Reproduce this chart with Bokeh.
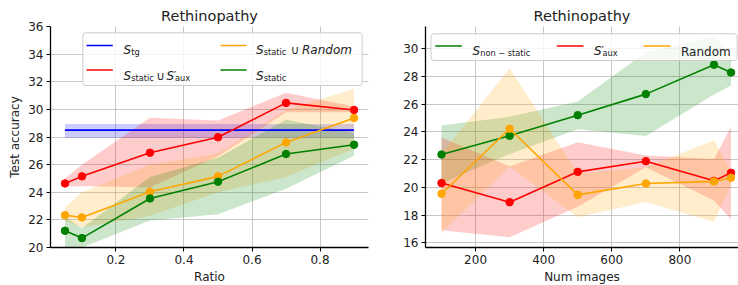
from bokeh.plotting import figure
from bokeh.layouts import row
from bokeh.models import Label, BoxAnnotation, FixedTicker, Range1d
from bokeh.embed import file_html
from bokeh.resources import INLINE

# ---------------- data: left panel ----------------
ratio = [0.05, 0.1, 0.3, 0.5, 0.7, 0.9]
tg_mean = [28.5, 28.5, 28.5, 28.5, 28.5, 28.5]
tg_low = [27.95, 27.95, 27.95, 27.95, 27.95, 27.95]
tg_high = [28.95, 28.95, 28.95, 28.95, 28.95, 28.95]

aux_mean = [24.64, 25.15, 26.86, 27.98, 30.47, 29.96]
aux_low = [24.4, 24.45, 24.35, 26.6, 29.8, 29.8]
aux_high = [25.0, 26.0, 29.4, 29.2, 31.2, 30.2]

rand_mean = [22.34, 22.18, 24.04, 25.15, 27.61, 29.38]
rand_low = [21.9, 21.45, 22.3, 24.0, 25.1, 27.15]
rand_high = [22.9, 24.0, 26.0, 26.8, 29.95, 31.5]

static_mean = [21.21, 20.68, 23.55, 24.76, 26.77, 27.44]
static_low = [19.8, 20.0, 21.95, 22.4, 24.25, 26.65]
static_high = [22.2, 21.4, 25.1, 26.5, 29.25, 28.3]

left_xticks = [0.2, 0.4, 0.6, 0.8]
left_yticks = [20, 22, 24, 26, 28, 30, 32, 34, 36]

# ---------------- data: right panel ----------------
num_images = [100, 300, 500, 700, 900, 950]
nonstatic_mean = [22.37, 23.72, 25.21, 26.73, 28.85, 28.29]
nonstatic_low = [20.3, 22.4, 24.2, 23.7, 26.7, 27.35]
nonstatic_high = [24.46, 25.1, 26.2, 29.75, 30.9, 29.5]

aux2_mean = [20.31, 18.93, 21.12, 21.89, 20.47, 21.05]
aux2_low = [16.9, 16.4, 18.6, 21.45, 19.05, 17.7]
aux2_high = [23.6, 21.5, 23.26, 22.3, 22.05, 24.35]

rand2_mean = [19.54, 24.23, 19.46, 20.28, 20.43, 20.69]
rand2_low = [16.75, 21.5, 17.85, 18.95, 17.5, 20.2]
rand2_high = [22.4, 28.6, 21.0, 21.45, 23.4, 21.2]

right_xticks = [200, 400, 600, 800]
right_yticks = [16, 18, 20, 22, 24, 26, 28, 30]

FONT = "DejaVu Sans"
TXT = "#222222"
BLUE, RED, ORANGE, GREEN = "blue", "red", "orange", "green"

TOP, BOT = 26, 38
FH = 221          # frame height (frame spans y 26..247)
FB = 247          # frame bottom in page pixels


def style(p, xticks, yticks):
    p.outline_line_color = None
    p.title.text_font = FONT
    p.title.text_font_size = "14.5px"
    p.title.text_font_style = "normal"
    p.title.text_color = TXT
    p.title.align = "center"
    p.title.standoff = 6
    for ax in (p.xaxis[0], p.yaxis[0]):
        ax.axis_line_color = "black"
        ax.axis_line_width = 1.3
        ax.major_tick_line_color = "black"
        ax.major_tick_line_width = 1
        ax.major_tick_out = 4
        ax.major_tick_in = 0
        ax.minor_tick_line_color = None
        ax.major_label_text_font = FONT
        ax.major_label_text_font_size = "12px"
        ax.major_label_text_color = TXT
        ax.major_label_standoff = 3
        ax.axis_label_text_font = FONT
        ax.axis_label_text_font_size = "12px"
        ax.axis_label_text_font_style = "normal"
        ax.axis_label_text_color = TXT
        ax.axis_label_standoff = 3
    p.xaxis[0].ticker = FixedTicker(ticks=xticks)
    p.yaxis[0].ticker = FixedTicker(ticks=yticks)
    for g in (p.xgrid[0], p.ygrid[0]):
        g.grid_line_color = "#b0b0b0"
        g.grid_line_alpha = 0.7
        g.grid_line_width = 1
    p.background_fill_color = "white"
    p.border_fill_color = "white"


def band(p, x, lo, hi, color):
    p.varea(x=x, y1=lo, y2=hi, fill_color=color, fill_alpha=0.2)


def draw_line(p, x, mid, color, markers=True):
    p.line(x=x, y=mid, line_color=color, line_width=1.6)
    if markers:
        p.scatter(x=x, y=mid, size=7.5, fill_color=color, line_color=color)


def lab(p, sx, sy_, text, size=12, style="normal"):
    p.add_layout(Label(x=sx, y=sy_, x_units="screen", y_units="screen", text=text,
                       text_font=FONT, text_font_size=f"{size}px",
                       text_font_style=style, text_color=TXT,
                       text_baseline="alphabetic", text_align="left",
                       level="overlay"))


def handle(p, x0, x1, y, color):
    p.add_layout(BoxAnnotation(left=x0, right=x1, bottom=y - 0.8, top=y + 0.8,
                               left_units="screen", right_units="screen",
                               top_units="screen", bottom_units="screen",
                               fill_color=color, fill_alpha=1, line_color=None,
                               level="overlay"))


def legend_box(p, l, r, b, t):
    p.add_layout(BoxAnnotation(left=l, right=r, bottom=b, top=t,
                               left_units="screen", right_units="screen",
                               top_units="screen", bottom_units="screen",
                               fill_color="white", fill_alpha=0.8,
                               line_color="#cccccc", line_width=1, line_alpha=1,
                               border_radius=3, level="annotation"))


def sy(py):
    return FB - py


# ---------------- left figure (frame x 50..368) ----------------
p1 = figure(frame_width=318, frame_height=FH, title="Rethinopathy", output_backend="svg",
            toolbar_location=None, x_range=Range1d(0.0075, 0.9425), y_range=Range1d(20, 36),
            min_border_left=50, min_border_right=12, min_border_top=TOP, min_border_bottom=BOT,
            x_axis_label="Ratio", y_axis_label="Test accuracy")
style(p1, left_xticks, left_yticks)
band(p1, ratio, tg_low, tg_high, BLUE)
band(p1, ratio, aux_low, aux_high, RED)
band(p1, ratio, rand_low, rand_high, ORANGE)
band(p1, ratio, static_low, static_high, GREEN)
draw_line(p1, ratio, tg_mean, BLUE, markers=False)
draw_line(p1, ratio, aux_mean, RED)
draw_line(p1, ratio, rand_mean, ORANGE)
draw_line(p1, ratio, static_mean, GREEN)


def sx1(px):
    return px - 50


legend_box(p1, sx1(82.3), sx1(361.7), sy(85), sy(32.3))
handle(p1, sx1(86), sx1(112.3), sy(45), BLUE)
handle(p1, sx1(86), sx1(112.3), sy(69.5), RED)
handle(p1, sx1(220), sx1(246), sy(45), ORANGE)
handle(p1, sx1(220), sx1(246), sy(69.5), GREEN)
lab(p1, sx1(123), sy(49.5), "S", 12, "italic")
lab(p1, sx1(130.8), sy(51.5), "tg", 8.2)
lab(p1, sx1(123), sy(75.7), "S", 12, "italic")
lab(p1, sx1(130.8), sy(77.7), "static", 8.2)
lab(p1, sx1(155.5), sy(75.7), "\u222a", 12)
lab(p1, sx1(166), sy(75.7), "S", 12, "italic")
lab(p1, sx1(173.5), sy(74.5), "\u2032", 11)
lab(p1, sx1(174.5), sy(77.2), "aux", 8.2)
lab(p1, sx1(255.5), sy(49.5), "S", 12, "italic")
lab(p1, sx1(263.2), sy(51.5), "static", 8.2)
lab(p1, sx1(290), sy(49.5), "\u222a", 12)
lab(p1, sx1(301.5), sy(49.5), "Random", 12, "italic")
lab(p1, sx1(255.5), sy(75.7), "S", 12, "italic")
lab(p1, sx1(263.2), sy(77.7), "static", 8.2)

# ---------------- right figure (frame x 425..738) ----------------
p2 = figure(frame_width=313, frame_height=FH, title="Rethinopathy", output_backend="svg",
            toolbar_location=None, x_range=Range1d(53, 972), y_range=Range1d(15.66, 31.61),
            min_border_left=45, min_border_right=0, min_border_top=TOP, min_border_bottom=BOT,
            x_axis_label="Num images")
style(p2, right_xticks, right_yticks)
p2.title.offset = 3
band(p2, num_images, nonstatic_low, nonstatic_high, GREEN)
band(p2, num_images, aux2_low, aux2_high, RED)
band(p2, num_images, rand2_low, rand2_high, ORANGE)
draw_line(p2, num_images, nonstatic_mean, GREEN)
draw_line(p2, num_images, aux2_mean, RED)
draw_line(p2, num_images, rand2_mean, ORANGE)


def sx2(px):
    return px - 425


legend_box(p2, sx2(430.5), sx2(736.7), sy(60), sy(33.3))
handle(p2, sx2(434.7), sx2(461.3), sy(45.5), GREEN)
handle(p2, sx2(556.3), sx2(583), sy(45.5), RED)
handle(p2, sx2(643), sx2(670), sy(45.5), ORANGE)
lab(p2, sx2(472), sy(50.8), "S", 12, "italic")
lab(p2, sx2(479.8), sy(52.8), "non \u2212 static", 8.2)
lab(p2, sx2(593.5), sy(50.8), "S", 12, "italic")
lab(p2, sx2(601), sy(49.6), "\u2032", 11)
lab(p2, sx2(602), sy(52.3), "aux", 8.2)
lab(p2, sx2(680.5), sy(51), "Random", 12)

layout = row(p1, p2)
open("out.html", "w").write(file_html(layout, INLINE))
